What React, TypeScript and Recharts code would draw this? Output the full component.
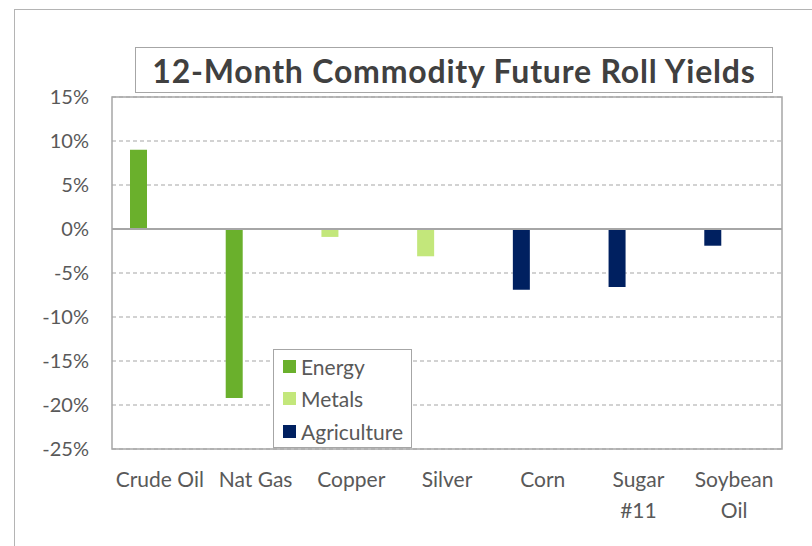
import { BarChart, Bar, XAxis, YAxis, CartesianGrid, ReferenceLine, ReferenceArea, Legend } from 'recharts'

const categories = ['Crude Oil', 'Nat Gas', 'Copper', 'Silver', 'Corn', 'Sugar\n#11', 'Soybean\nOil']
const energy = [9.0, -19.2, 0, 0, 0, 0, 0]
const metals = [0, 0, -0.9, -3.1, 0, 0, 0]
const agriculture = [0, 0, 0, 0, -6.9, -6.6, -1.9]
const seriesNames = ['Energy', 'Metals', 'Agriculture']
const yTicks = [15, 10, 5, 0, -5, -10, -15, -20, -25]

const COLORS = {
  energy: '#6ab02c',
  metals: '#c3e77b',
  agriculture: '#002060',
}

const FONT = 'Lato, "Open Sans", sans-serif'
const GRAY = '#a6a6a6'
const TEXT = '#595959'

const data = categories.map((name, i) => ({
  name,
  energy: energy[i],
  metals: metals[i],
  agriculture: agriculture[i],
}))

function CategoryTick({ x, y, payload }: any) {
  const lines = String(payload.value).split('\n')
  return (
    <text x={x} y={y} textAnchor="middle" fill={TEXT} fontSize={21} fontFamily={FONT}>
      {lines.map((line, i) => (
        <tspan key={i} x={x} dy={i === 0 ? 38 : 31}>{line}</tspan>
      ))}
    </text>
  )
}

function LegendBox({ payload }: any) {
  const items = (payload || [])
    .filter((p: any) => seriesNames.includes(p.value))
    .sort((a: any, b: any) => seriesNames.indexOf(a.value) - seriesNames.indexOf(b.value))
  return (
    <div style={{ width: 137, height: 97, border: `1px solid ${GRAY}`, background: '#fff', boxSizing: 'content-box' }}>
      {items.map((p: any) => (
        <div key={p.value} style={{ display: 'flex', alignItems: 'center', height: 32.5, paddingLeft: 9 }}>
          <div style={{ width: 13, height: 13, background: p.color, marginRight: 5 }} />
          <span style={{ fontFamily: FONT, fontSize: 21, color: TEXT, whiteSpace: 'nowrap' }}>{p.value}</span>
        </div>
      ))}
    </div>
  )
}

export default function App() {
  return (
    <div style={{ position: 'absolute', left: 0, top: 0, width: 812, height: 546, background: '#fff', overflow: 'hidden' }}>
      {/* outer frame */}
      <div style={{ position: 'absolute', left: 14, top: 9, width: 820, height: 560, borderLeft: '1.5px solid #b4b4b4', borderTop: '1.5px solid #b4b4b4' }} />
      <BarChart
        width={812}
        height={546}
        data={data}
        margin={{ top: 97, right: 30, bottom: 37, left: 0 }}
        barSize={17}
        barGap={25}
        stackOffset="sign"
      >
        <CartesianGrid vertical={false} stroke={GRAY} strokeDasharray="4 3" strokeWidth={1.2} />
        <YAxis
          type="number"
          domain={[-25, 15]}
          ticks={yTicks}
          interval={0}
          width={112}
          axisLine={false}
          tickLine={false}
          tickSize={0}
          tickMargin={23}
          tickFormatter={(v: number) => `${v}%`}
          tick={{ fill: TEXT, fontSize: 20, fontFamily: FONT }}
        />
        <XAxis
          dataKey="name"
          height={60}
          axisLine={false}
          tickLine={false}
          tickSize={0}
          tickMargin={0}
          interval={0}
          tick={<CategoryTick />}
        />
        <ReferenceArea y1={-25} y2={15} fill="none" stroke={GRAY} strokeWidth={1.5} ifOverflow="visible" />
        <ReferenceLine y={0} stroke={GRAY} strokeWidth={2} />
        <Bar dataKey="energy" name="Energy" stackId="a" fill={COLORS.energy} isAnimationActive={false} />
        <Bar dataKey="metals" name="Metals" stackId="a" fill={COLORS.metals} isAnimationActive={false} />
        <Bar dataKey="agriculture" name="Agriculture" stackId="a" fill={COLORS.agriculture} isAnimationActive={false} />
        <Bar dataKey="spacer" name="spacer" stackId="b" fill="none" legendType="none" isAnimationActive={false} />
        <Legend
          layout="vertical"
          align="center"
          verticalAlign="middle"
          content={<LegendBox />}
          wrapperStyle={{ left: 273, top: 349, width: 139, height: 100 }}
        />
      </BarChart>
      {/* title */}
      <div
        style={{
          position: 'absolute',
          left: 135,
          top: 47,
          width: 636,
          height: 44,
          border: `1.5px solid ${GRAY}`,
          display: 'flex',
          alignItems: 'center',
          justifyContent: 'center',
          fontFamily: FONT,
          fontWeight: 700,
          fontSize: 32,
          letterSpacing: 0.8,
          color: '#404040',
          background: '#fff',
        }}
      >
        12-Month Commodity Future Roll Yields
      </div>
    </div>
  )
}
